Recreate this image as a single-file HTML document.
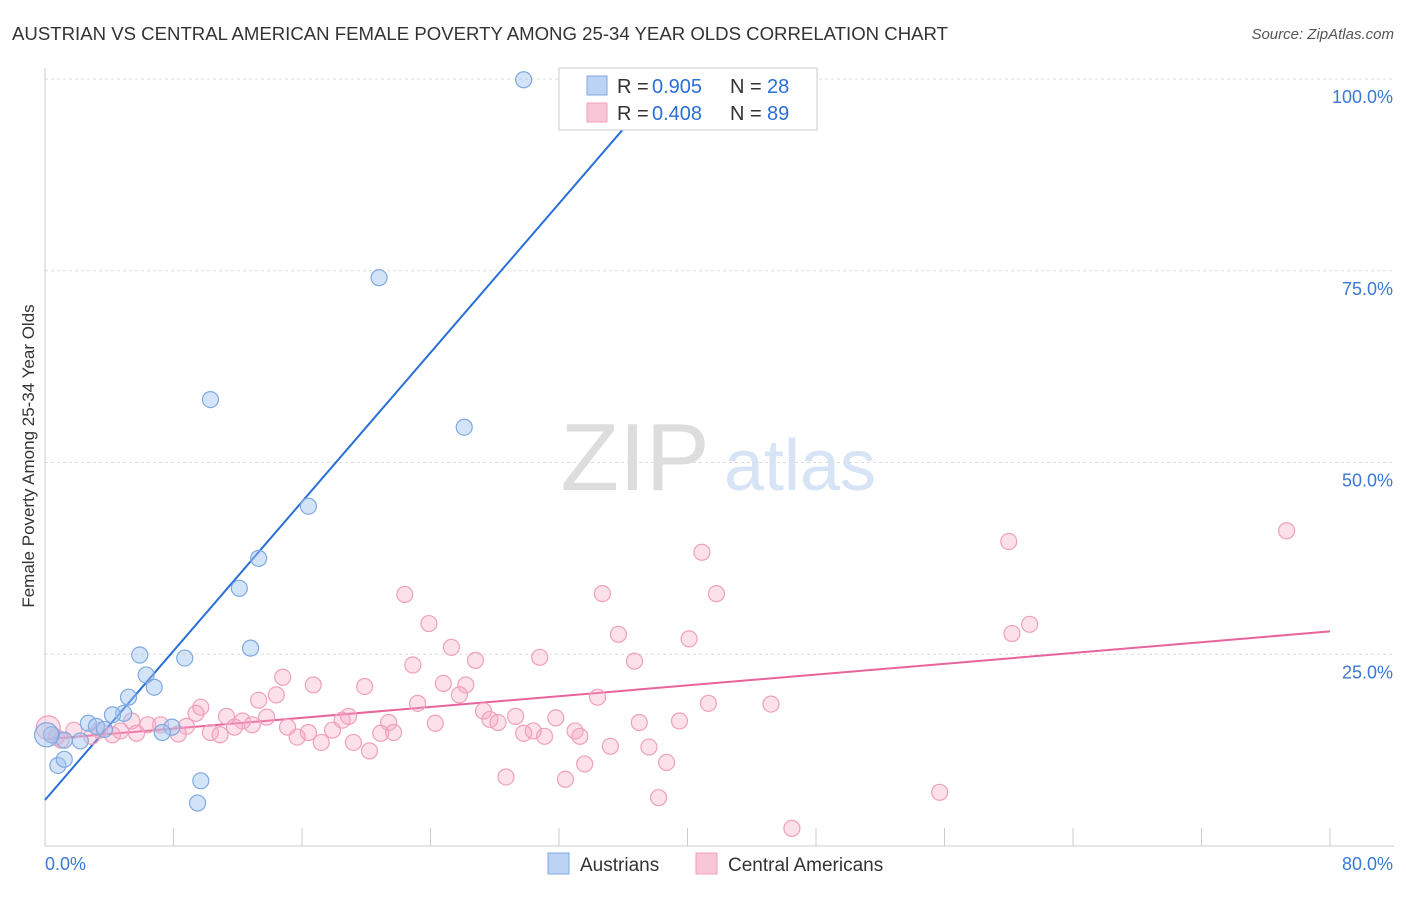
<!DOCTYPE html>
<html><head><meta charset="utf-8"><style>
body{margin:0;background:#fff;font-family:"Liberation Sans",sans-serif;}
svg text{font-family:"Liberation Sans",sans-serif;}
</style></head><body>
<svg id="c" width="1406" height="892" xmlns="http://www.w3.org/2000/svg">
<text x="12" y="40" font-size="18" fill="#333" textLength="936" lengthAdjust="spacingAndGlyphs">AUSTRIAN VS CENTRAL AMERICAN FEMALE POVERTY AMONG 25-34 YEAR OLDS CORRELATION CHART</text>
<text x="1394" y="39" font-size="15" fill="#555" font-style="italic" text-anchor="end">Source: ZipAtlas.com</text>
<text x="34" y="456" font-size="17" fill="#333" text-anchor="middle" transform="rotate(-90 34 456)">Female Poverty Among 25-34 Year Olds</text>
<g><text x="635" y="490" font-size="96" fill="#ddd" font-family="Liberation Serif" text-anchor="middle">ZIP</text><text x="800" y="490" font-size="72" fill="#d6e4f5" text-anchor="middle">atlas</text></g>
<g id="grid"></g><g id="axes"></g><g id="lines"></g><g id="pts"></g>
<g>
<rect x="559" y="68" width="258" height="62" fill="#fff" stroke="#ccc"/>
<rect x="587" y="76" width="20" height="19" fill="#bcd3f5" stroke="#7fa9e0"/>
<rect x="587" y="103" width="20" height="19" fill="#f9c6d7" stroke="#f0a0bc"/>
<text x="617" y="93" font-size="20" fill="#333">R =</text><text x="652" y="93" font-size="20" fill="#2a6fd6">0.905</text>
<text x="730" y="93" font-size="20" fill="#333">N =</text><text x="767" y="93" font-size="20" fill="#2a6fd6">28</text>
<text x="617" y="120" font-size="20" fill="#333">R =</text><text x="652" y="120" font-size="20" fill="#2a6fd6">0.408</text>
<text x="730" y="120" font-size="20" fill="#333">N =</text><text x="767" y="120" font-size="20" fill="#2a6fd6">89</text>
</g>
<g>
<rect x="548" y="853" width="21" height="21" fill="#bcd3f5" stroke="#7fa9e0"/>
<text x="580" y="871" font-size="19" fill="#333">Austrians</text>
<rect x="696" y="853" width="21" height="21" fill="#f9c6d7" stroke="#f0a0bc"/>
<text x="728" y="871" font-size="19" fill="#333">Central Americans</text>
</g>
</svg>
<script>
const xTickLabels=["0.0%","80.0%"];
const yTicks=[25,50,75,100];
const yTickLabels=["25.0%","50.0%","75.0%","100.0%"];
const blueX=[29.8,20.8,10.3,26.1,16.4,13.3,12.1,12.8,5.9,8.7,6.3,6.8,5.2,4.9,4.2,2.7,3.2,3.7,7.9,7.3,2.2,1.2,0.4,0.8,1.2,9.7,9.5,0.1];
const blueY=[99.9,74.1,58.2,54.6,44.3,37.5,33.6,25.8,24.9,24.5,22.3,20.7,19.4,17.3,17.1,16.0,15.6,15.2,15.5,14.8,13.7,13.8,14.5,10.5,11.3,8.5,5.6,14.5];
const pinkX=[77.3,60.0,40.9,22.4,34.7,41.8,61.3,60.2,23.9,35.7,40.1,25.3,30.8,26.8,36.7,22.9,14.8,24.8,26.2,16.7,19.9,14.4,25.8,34.4,13.3,23.2,41.3,45.2,9.7,9.4,27.3,13.8,18.9,11.3,29.3,31.8,27.7,18.5,5.4,12.3,37.0,39.5,24.3,21.4,28.2,6.4,7.2,8.8,12.9,15.1,11.8,17.9,1.8,3.4,4.7,10.3,16.4,21.7,30.4,33.0,29.8,5.7,8.3,20.9,4.2,10.9,31.1,33.3,0.7,2.9,15.7,17.2,19.2,35.2,37.6,20.2,38.7,33.6,28.7,32.4,55.7,38.2,46.5,1.0,0.2];
const pinkY=[41.1,39.7,38.3,32.8,32.9,32.9,28.9,27.7,29.0,27.6,27.0,25.9,24.6,24.2,24.1,23.6,22.0,21.2,21.0,21.0,20.8,19.7,19.7,19.4,19.0,18.6,18.6,18.5,18.1,17.3,17.6,16.8,16.9,16.9,16.9,16.7,16.5,16.4,16.3,16.3,16.1,16.3,16.0,16.1,16.1,15.8,15.8,15.6,15.8,15.5,15.5,15.1,15.1,15.1,15.0,14.8,14.8,14.8,15.0,15.0,14.7,14.7,14.6,14.7,14.5,14.5,14.3,14.3,14.2,14.3,14.2,13.5,13.5,13.0,12.9,12.4,10.9,10.7,9.0,8.7,7.0,6.3,2.3,13.8,15.4];
const blueFit=[6.0,2.43];
const pinkFit=[13.9,0.176];
const NS="http://www.w3.org/2000/svg";
const X=v=>45+v*(1285/80), Y=v=>846-v*7.67;
function mk(p,t,a){const e=document.createElementNS(NS,t);for(const k in a)e.setAttribute(k,a[k]);document.getElementById(p).appendChild(e);return e;}
yTicks.forEach((t,i)=>{
 const g=mk('grid','line',{x1:45,x2:1394,y1:Y(t),y2:Y(t),stroke:'#ddd','stroke-dasharray':'3,3'});
 
 
 const l=mk('grid','text',{x:1393,y:Y(t)+24,'font-size':18,fill:'#3a78d6','text-anchor':'end'});l.textContent=yTickLabels[i];
 
 
});
const ax=mk('axes','line',{x1:45,x2:1394,y1:846,y2:846,stroke:'#ccc'});


const ay=mk('axes','line',{x1:45,x2:45,y1:68,y2:846,stroke:'#ccc'});


for(let i=0;i<=10;i++){const t=mk('axes','line',{x1:X(i*8),x2:X(i*8),y1:828,y2:846,stroke:'#ccc'});
 
 }
[[0,'start',45],[80,'end',1393]].forEach((d,i)=>{const t=mk('axes','text',{x:d[2],y:870,'font-size':18,fill:'#3a78d6','text-anchor':d[1]});t.textContent=xTickLabels[i];
 
 });
const bxEnd=(100-blueFit[0])/blueFit[1];
const bl=mk('lines','line',{x1:X(0),y1:Y(blueFit[0]),x2:X(bxEnd),y2:Y(100),stroke:'#2a6fd6','stroke-width':2});


const pl=mk('lines','line',{x1:X(0),y1:Y(pinkFit[0]),x2:X(80),y2:Y(pinkFit[0]+80*pinkFit[1]),stroke:'#e8649a','stroke-width':2});


pinkX.forEach((v,i)=>{const c=mk('pts','circle',{cx:X(v),cy:Y(pinkY[i]),r:i==pinkX.length-1?12:8,fill:'rgba(245,165,195,0.35)',stroke:'#f0a0bc','stroke-width':1.2});
 
 });
blueX.forEach((v,i)=>{const c=mk('pts','circle',{cx:X(v),cy:Y(blueY[i]),r:i==blueX.length-1?12:8,fill:'rgba(160,196,240,0.45)',stroke:'#7fa9e0','stroke-width':1.2});
 
 });
</script>
</body></html>
